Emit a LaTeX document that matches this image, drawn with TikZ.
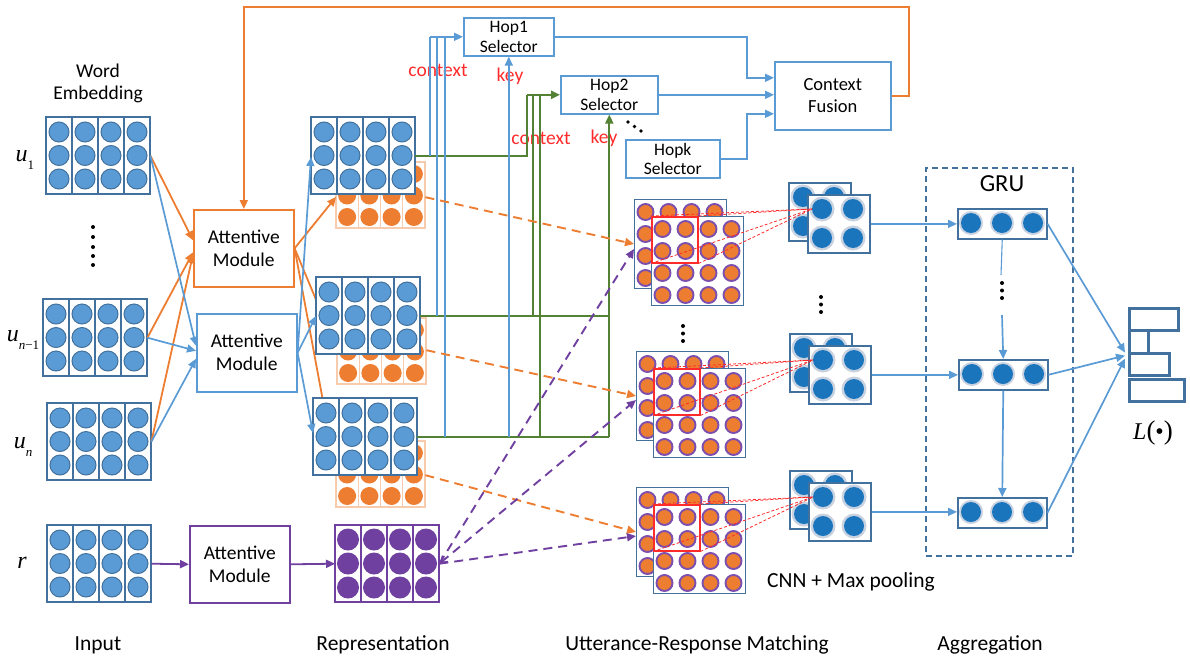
\documentclass[tikz,border=0pt]{standalone}
\usepackage{fontspec}
\setmainfont{Carlito}
\newfontfamily\lserif{Liberation Serif}
\usetikzlibrary{arrows.meta,calc}

\definecolor{bB}{HTML}{41719C}
\definecolor{bF}{HTML}{5B9BD5}
\definecolor{bL}{HTML}{5B9BD5}
\definecolor{oC}{HTML}{ED7D31}
\definecolor{oL}{HTML}{F8CBAD}
\definecolor{pC}{HTML}{7040A0}
\definecolor{gC}{HTML}{548235}
\definecolor{rC}{HTML}{FF2B2B}
\definecolor{dB}{HTML}{1B75BC}
\definecolor{rg}{HTML}{C8D2E0}
\definecolor{mP}{HTML}{7B4FAE}

\tikzset{
 tip/.style={-{Triangle[length=9pt,width=8pt]}},
 bline/.style={draw=bL, line width=1.7pt},
 gline/.style={draw=gC, line width=2.2pt},
 oline/.style={draw=oC, line width=1.8pt},
 pline/.style={draw=pC, line width=1.8pt},
 odash/.style={draw=oC, line width=1.9pt, dash pattern=on 9pt off 6pt},
 pdash/.style={draw=pC, line width=1.9pt, dash pattern=on 9pt off 6pt},
 rdash/.style={draw=rC, line width=0.8pt, dash pattern=on 3pt off 2pt},
 matnode/.style={inner sep=0pt, fill=white, anchor=north west},
 colrect/.style={draw=bB, line width=1.3pt},
 bcirc/.style={draw=bB, line width=1pt, fill=bF},
 modbox/.style={draw, line width=1.6pt, fill=white, minimum width=100pt, minimum height=77pt, inner sep=0pt, align=center, anchor=north west, font=\fontsize{19.5}{23}\selectfont},
 hopbox/.style={draw=bL, line width=1.6pt, fill=white, inner sep=0pt, align=center, anchor=north west, font=\fontsize{17.5}{19.5}\selectfont},
 mbox/.style={draw=bB, line width=1pt, fill=white, minimum width=92pt, minimum height=89pt, inner sep=0pt, anchor=north west},
 redsq/.style={draw=rC, line width=1.5pt, minimum width=46pt, minimum height=46pt, inner sep=0pt, anchor=north west},
 pbox/.style={draw=bB, line width=1.8pt, fill=white, minimum width=62pt, minimum height=58pt, inner sep=0pt, anchor=north west},
 gbox/.style={draw=bB, line width=1.5pt, fill=white, minimum width=89pt, minimum height=30pt, inner sep=0pt, anchor=north west},
 lbox/.style={draw=bB, line width=2.6pt, inner sep=0pt, anchor=north west},
 redtxt/.style={text=rC, font=\fontsize{19.5}{22}\selectfont},
 labtxt/.style={font=\fontsize{21.5}{24}\selectfont},
 dotc/.style={fill=black},
}

\newcommand{\inmat}[3]{%
  \node[matnode, minimum width=104pt, minimum height=77pt] (#1) at (#2,#3) {};
  \foreach \ci in {0,...,3}{
    \draw[colrect] (#2+\ci*26,#3) rectangle ++(26,77);
    \foreach \rj in {0,1,2}{
      \draw[bcirc] (#2+13+\ci*26,#3+15+\rj*23.5) circle (10pt);
    }
  }
}
\newcommand{\prepmat}[3]{%
  \node[matnode, minimum width=104pt, minimum height=77pt] (#1) at (#2,#3) {};
  \foreach \ci in {0,...,3}{
    \draw[draw=pC, line width=1.3pt] (#2+\ci*26,#3) rectangle ++(26,77);
    \foreach \rj in {0,1,2}{
      \fill[pC] (#2+13+\ci*26,#3+14.5+\rj*24) circle (11pt);
    }
  }
}
\newcommand{\orepmat}[3]{%
  \node[matnode, minimum width=89pt, minimum height=66pt] (#1) at (#2,#3) {};
  \foreach \ci in {0,...,3}{
    \draw[draw=oL, line width=1.2pt] (#2+\ci*22.25,#3) rectangle ++(22.25,66);
    \foreach \rj in {0,1,2}{
      \fill[oC] (#2+11.1+\ci*22.25,#3+12+\rj*21.5) circle (9pt);
    }
  }
}
\newcommand{\mmat}[4]{%
  \node[mbox] (#1b) at (#2,#3) {};
  \foreach \ci in {0,...,3}{\foreach \rj in {0,...,3}{
    \draw[draw=mP, line width=1.9pt, fill=oC] (#2+11.5+\ci*23,#3+13+\rj*22) circle (8pt);}}
  \node[mbox] (#1f) at (#2+17,#3+17) {};
  \foreach \ci in {0,...,3}{\foreach \rj in {0,...,3}{
    \draw[draw=mP, line width=1.9pt, fill=oC] (#2+28.5+\ci*23,#3+30+\rj*22) circle (8pt);}}
  \node[redsq] (#4) at (#2+17,#3+17) {};
}
\newcommand{\pmat}[3]{%
  \node[pbox] (#1b) at (#2,#3) {};
  \foreach \ci in {0,1}{\foreach \rj in {0,1}{
    \fill[rg] (#2+15+\ci*31,#3+15+\rj*29) circle (12.5pt);
    \fill[dB] (#2+15+\ci*31,#3+15+\rj*29) circle (10pt);}}
  \node[pbox] (#1f) at (#2+19,#3+12) {};
  \foreach \ci in {0,1}{\foreach \rj in {0,1}{
    \fill[rg] (#2+34+\ci*31,#3+27+\rj*29) circle (12.5pt);
    \fill[dB] (#2+34+\ci*31,#3+27+\rj*29) circle (10pt);}}
}
\newcommand{\grubox}[3]{%
  \node[gbox] (#1) at (#2,#3) {};
  \foreach \ci in {0,1,2}{
    \fill[rg] (#2+14+\ci*31,#3+15) circle (12pt);
    \fill[dB] (#2+14+\ci*31,#3+15) circle (10pt);}
}
\newcommand{\uvar}[1]{{\lserif\itshape u}\raisebox{-0.3em}{\fontsize{13}{13}\selectfont\lserif #1}}

\begin{document}
\begin{tikzpicture}[x=1pt,y=-1pt]
\useasboundingbox (0,0) rectangle (1190,659);

% ---------- top: hop selectors ----------
\node[hopbox, minimum width=90pt, minimum height=38pt] (H1) at (463,17) {Hop1\\Selector};
\node[hopbox, minimum width=97pt, minimum height=38pt] (H2) at (560,75) {Hop2\\Selector};
\node[hopbox, minimum width=94pt, minimum height=38pt] (Hk) at (625,139) {Hopk\\Selector};
\node[hopbox, minimum width=116pt, minimum height=68pt, font=\fontsize{18.5}{22}\selectfont] (CF) at (774,61) {Context\\Fusion};

\coordinate (xm) at (747,0);
\coordinate (CFa) at ($(CF.west)+(0,-18)$);
\coordinate (CFc) at ($(CF.west)+(0,18)$);
\draw[bline,tip] (H1.east) -| (xm |- CFa) -- (CFa);
\draw[bline,tip] (H2.east) -- (H2.east -| CF.west);
\draw[bline,tip] (Hk.east) -| (xm |- CFc) -- (CFc);

\fill[dotc] (628,122) circle (1.8pt) (634.5,126.5) circle (1.8pt) (641,131) circle (1.8pt);

\node[redtxt] (c1) at (438,70) {context};
\node[redtxt] (k1) at (510,76) {key};
\node[redtxt] (c2) at (541,138) {context};
\node[redtxt] (k2) at (604,138) {key};

% ---------- input ----------
\node[font=\fontsize{19.5}{22}\selectfont, align=center] (we) at (98,83) {Word\\Embedding};
\inmat{U1}{46}{117}
\inmat{U2}{43}{299}
\inmat{U3}{47}{403}
\inmat{Rr}{47}{525}
\node[font=\fontsize{24}{24}\selectfont] (lu1) at (25,160) {\uvar{1}};
\node[font=\fontsize{24}{24}\selectfont] (lu2) at (23,340) {\uvar{{\itshape n}−1}};
\node[font=\fontsize{24}{24}\selectfont] (lu3) at (23,447) {\uvar{\itshape n}};
\node[font=\fontsize{24}{24}\selectfont] (lr) at (22,563) {{\lserif\itshape r}};
\foreach \yy in {227,237,247,256,265} \fill[dotc] (93,\yy) circle (2pt);

% ---------- attentive modules ----------
\node[modbox, draw=oC] (AO) at (193,209) {Attentive\\Module};
\node[modbox, draw=bL, minimum height=78pt] (AB) at (196,313) {Attentive\\Module};
\node[modbox, draw=pC] (AP) at (189,525) {Attentive\\Module};

\draw[oline,tip] (U1.east) -- ($(AO.west)+(0,-8)$);
\draw[oline,tip] (U2.east) -- ($(AO.west)+(0,4)$);
\draw[oline,tip] (U3.east) -- ($(AO.west)+(0,6)$);
\draw[bline,tip] (U1.east) -- ($(AB.west)+(0,-7)$);
\draw[bline,tip] (U2.east) -- ($(AB.west)+(0,-2)$);
\draw[bline,tip] (U3.east) -- ($(AB.west)+(0,6)$);

% feedback from context fusion
\coordinate (topR) at (909,7);
\draw[oline,tip] (CF.east) -| (topR) -| (AO.north);

% ---------- representations ----------
\orepmat{O1}{336}{162}
\orepmat{O2}{337}{318}
\orepmat{O3}{336}{441}
\draw[oline,tip] (AO.east) -- ($(O1.north west)+(0,35)$);
\draw[oline,tip] (AO.east) -- ($(O2.north west)+(0,32)$);
\draw[oline,tip] (AO.east) -- ($(O3.north west)+(0,30)$);
\inmat{R1}{311}{117}
\inmat{R2}{316}{277}
\inmat{R3}{313}{398}
\prepmat{PR}{335}{525}
\draw[bline,tip] (AB.east) -- ($(R1.north west)+(0,40)$);
\draw[bline,tip] (AB.east) -- ($(R2.north west)+(0,39)$);
\draw[bline,tip] (AB.east) -- ($(R3.north west)+(0,35)$);
\draw[pline,tip] (Rr.east) -- (AP.west);
\draw[pline,tip] (AP.east) -- (PR.west);

% ---------- hop connections ----------
\coordinate (xb1) at (430,0);
\coordinate (xb2) at (437,0);
\coordinate (xb3) at (445,0);
\coordinate (xg1) at (527,0);
\coordinate (xg2) at (533,0);
\coordinate (xg3) at (540,0);
\draw[gline] (R1.east) -- (R1.east -| xg1) -- (H2.west -| xg1);
\draw[gline] (R2.east) -- (R2.east -| H2.south);
\draw[gline] (R3.east) -- (R3.east -| H2.south);
\draw[gline] (R2.east -| xg2) -- (H2.west -| xg2);
\draw[gline] (R3.east -| xg3) -- (H2.west -| xg3);
\draw[gline,tip] (H2.west -| xg1) -- (H2.west);
\draw[gline,tip] (R3.east -| H2.south) -- (H2.south);
\draw[bline] (R1.east -| xb1) -- (H1.west -| xb1);
\draw[bline] (R2.east -| xb2) -- (H1.west -| xb2);
\draw[bline] (R3.east -| xb3) -- (H1.west -| xb3);
\draw[bline,tip] (H1.west -| xb1) -- (H1.west);
\draw[bline,tip] (R3.east -| H1.south) -- (H1.south);

% ---------- matching ----------
\mmat{M1}{634}{199}{S1}
\mmat{M2}{636}{351}{S2}
\mmat{M3}{636}{487}{S3}
\foreach \yy in {326,333.5,341} \fill[dotc] (683,\yy) circle (2pt);

\draw[odash,tip] ($(O1.east)+(0,2)$) -- (M1b.west);
\draw[odash,tip] ($(O2.east)+(0,-1)$) -- (M2b.west);
\draw[odash,tip] ($(O3.east)+(0,1)$) -- (M3b.west);
\draw[pdash,tip] (PR.east) -- ($(M1b.west)+(0,5)$);
\draw[pdash,{Straight Barb[length=6pt,width=8pt]}-{Triangle[length=9pt,width=8pt]}] (PR.east) -- ($(M2b.west)+(0,4)$);
\draw[pdash,tip] (PR.east) -- ($(M3b.west)+(0,4)$);

% ---------- pooling ----------
\pmat{P1}{788}{182}
\pmat{P2}{789}{333}
\pmat{P3}{789}{470}
\foreach \yy in {297,304.5,312} \fill[dotc] (821,\yy) circle (2pt);
\node[labtxt] (cnn) at (851,582) {CNN + Max pooling};

\coordinate (T1) at ($(P1f.north west)+(5,15)$);
\coordinate (T2) at ($(P2f.north west)+(5,15)$);
\coordinate (T3) at ($(P3f.north west)+(5,15)$);
\foreach \s/\t in {S1/T1,S2/T2,S3/T3}{
  \draw[rdash] (\s.north west) -- (\t);
  \draw[rdash] (\s.north east) -- (\t);
  \draw[rdash] (\s.south west) -- (\t);
  \draw[rdash] (\s.south east) -- (\t);
}

% ---------- GRU ----------
\node[draw=bB, line width=1.7pt, dash pattern=on 6pt off 4pt, minimum width=147pt, minimum height=388pt, inner sep=0pt, anchor=north west] (GB) at (925,167) {};
\node[font=\fontsize{24.5}{26}\selectfont] (gru) at (1002,184) {GRU};
\grubox{G1}{957}{208}
\grubox{G2}{958}{359}
\grubox{G3}{957}{497}
\draw[bline,tip] (P1f.east) -- (P1f.east -| G1.west);
\draw[bline,tip] (P2f.east) -- (P2f.east -| G2.west);
\draw[bline,tip] (P3f.east) -- (P3f.east -| G3.west);
\coordinate (gA) at (1001,275);
\coordinate (gB) at (1002,315);
\draw[bline, line width=1.1pt] (G1.south) -- (gA);
\foreach \yy in {283,290.5,298} \fill[dotc] (1002,\yy) circle (2pt);
\draw[bline,tip] (gB) -- (G2.north);
\draw[bline,tip] (G2.south) -- (G3.north);

% ---------- output L ----------
\node[lbox, minimum width=49pt, minimum height=22pt] (L1) at (1128,307) {};
\node[lbox, minimum width=19pt, minimum height=23pt] (L2) at (1128,329) {};
\node[lbox, minimum width=40pt, minimum height=22pt] (L3) at (1128,352) {};
\node[lbox, minimum width=55pt, minimum height=22pt] (L4) at (1128,378) {};
\draw[bline,tip] (G1.east) -- ($(L2.south west)+(-3,-2)$);
\draw[bline,tip] (G2.east) -- ($(L2.south west)+(-3,1)$);
\draw[bline,tip] (G3.east) -- ($(L2.south west)+(-3,4)$);
\node[font=\fontsize{24}{24}\selectfont] (Lf) at (1153,433) {{\lserif\itshape L}{\lserif\fontsize{27}{27}\selectfont(}{\lserif •}{\lserif\fontsize{27}{27}\selectfont)}};

% ---------- bottom labels ----------
\node[labtxt] (t1) at (98,645) {Input};
\node[labtxt] (t2) at (383,645) {Representation};
\node[labtxt] (t3) at (697,645) {Utterance-Response Matching};
\node[labtxt] (t4) at (990,645) {Aggregation};
\end{tikzpicture}
\end{document}
